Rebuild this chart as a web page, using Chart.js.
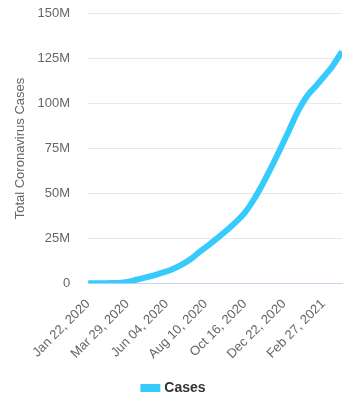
<!DOCTYPE html>
<html>
<head>
<meta charset="utf-8">
<script src="https://cdn.jsdelivr.net/npm/chart.js@4/dist/chart.umd.min.js"></script>
<style>
  html, body { margin: 0; padding: 0; background: #fff; }
  #wrap { width: 352px; height: 408px; }
</style>
</head>
<body>
<div id="wrap"><canvas id="cases-chart"></canvas></div>
<script>
// tick labels on the x axis (every 67 days from Jan 22, 2020)
const tickLabels = ['Jan 22, 2020', 'Mar 29, 2020', 'Jun 04, 2020', 'Aug 10, 2020', 'Oct 16, 2020', 'Dec 22, 2020', 'Feb 27, 2021'];
const tickDays = [0, 67, 134, 201, 268, 335, 402];
const lastDay = 434; // Mar 31, 2021

// points: day since Jan 22, 2020 -> total cases (millions)
const pointDays = [0, 24, 39, 53, 69, 84, 99, 114, 130, 145, 160, 175, 191, 206, 222, 237, 252, 267, 283, 298, 313, 328, 344, 359, 375, 390, 403, 418, 434];
const casesMillions = [0.0006, 0.07, 0.09, 0.17, 0.86, 2.1, 3.3, 4.6, 6.2, 8.0, 10.4, 13.4, 17.6, 21.3, 25.4, 29.5, 33.9, 38.9, 46.5, 55.0, 64.5, 74.5, 85.5, 96.0, 104.5, 110.0, 115.0, 121.0, 129.0];

const yTicks = [0, 25, 50, 75, 100, 125, 150];

const FONT = "'Liberation Sans', Arial, Helvetica, sans-serif";
const LINE_COLOR = '#36cbfc';

const points = pointDays.map((d, i) => ({ x: d, y: casesMillions[i] * 1e6 }));

new Chart(document.getElementById('cases-chart'), {
    type: 'line',
    data: {
        datasets: [{
            label: 'Cases',
            data: points,
            borderColor: LINE_COLOR,
            backgroundColor: LINE_COLOR,
            borderWidth: 6,
            pointRadius: 0,
            fill: false,
            cubicInterpolationMode: 'monotone'
        }]
    },
    options: {
        responsive: true,
        maintainAspectRatio: false,
        animation: false,
        layout: { padding: { top: 7, right: 10, left: 7, bottom: 3 } },
        plugins: {
            tooltip: { enabled: false },
            legend: {
                position: 'bottom',
                labels: {
                    boxWidth: 14,
                    boxHeight: 2,
                    color: '#333',
                    font: { family: FONT, size: 14, weight: 'bold' },
                    padding: 14
                }
            }
        },
        scales: {
            x: {
                type: 'linear',
                min: 0,
                max: lastDay,
                grid: { display: false },
                border: { display: true, color: '#c9d5ee', width: 1 },
                afterBuildTicks: axis => { axis.ticks = tickDays.map(v => ({ value: v })); },
                afterFit: axis => { axis.paddingLeft = 0; },
                ticks: {
                    color: '#666',
                    padding: 5,
                    font: { family: FONT, size: 13 },
                    minRotation: 45,
                    maxRotation: 45,
                    autoSkip: false,
                    callback: v => tickLabels[tickDays.indexOf(v)]
                }
            },
            y: {
                min: 0,
                max: 150e6,
                grid: { color: '#e8e8e8', drawTicks: true, tickLength: 12, tickColor: 'rgba(0,0,0,0)' },
                border: { display: false },
                afterBuildTicks: axis => { axis.ticks = yTicks.map(v => ({ value: v * 1e6 })); },
                ticks: {
                    color: '#666',
                    padding: 6,
                    font: { family: FONT, size: 13 },
                    callback: v => v === 0 ? '0' : (v / 1e6) + 'M'
                },
                title: {
                    display: true,
                    text: 'Total Coronavirus Cases',
                    color: '#666',
                    padding: { top: 6, bottom: 3 },
                    font: { family: FONT, size: 13 }
                }
            }
        }
    }
});
</script>
</body>
</html>
